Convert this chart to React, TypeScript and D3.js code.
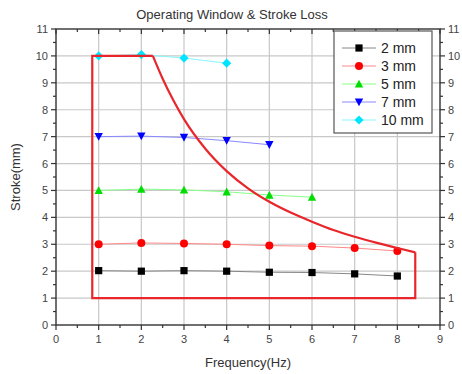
import React from "react";
import * as d3 from "d3";

const W = 462;
const H = 374;
const M = { left: 56, right: 22, top: 29, bottom: 49 };

const xTicks = [0, 1, 2, 3, 4, 5, 6, 7, 8, 9];
const yTicks = [0, 1, 2, 3, 4, 5, 6, 7, 8, 9, 10, 11];

const freq = [1, 2, 3, 4, 5, 6, 7, 8];
const s2mm = [2.02, 2.0, 2.02, 2.0, 1.96, 1.95, 1.9, 1.82];
const s3mm = [3.0, 3.05, 3.03, 3.0, 2.95, 2.93, 2.86, 2.75];
const s5mm = [5.0, 5.05, 5.02, 4.95, 4.83, 4.75];
const s7mm = [7.0, 7.02, 6.97, 6.85, 6.7];
const s10mm = [10.0, 10.05, 9.92, 9.73];

const seriesNames = ["2 mm", "3 mm", "5 mm", "7 mm", "10 mm"];
const seriesValues = [s2mm, s3mm, s5mm, s7mm, s10mm];
const seriesColors = ["#000000", "#ff0000", "#00dd00", "#0000ff", "#00e5ff"];
const lineColors = ["#888888", "#ff8888", "#88ff88", "#8888ff", "#88f5ff"];
const seriesSymbols = ["square", "circle", "triangleUp", "triangleDown", "diamond"];

// operating window: box edges (linear) + limit curve (smooth)
const boxX = [8.42, 8.42, 0.85, 0.85, 2.27];
const boxY = [2.7, 1, 1, 10, 10];
const curveX = [2.27, 2.5, 2.75, 3, 3.5, 4, 4.5, 5, 5.5, 6, 6.5, 7, 7.5, 8, 8.42];
const curveY = [10, 9.15, 8.35, 7.65, 6.55, 5.72, 5.08, 4.58, 4.18, 3.84, 3.53, 3.28, 3.06, 2.86, 2.7];

function Marker({ type, x, y, color }: { type: string; x: number; y: number; color: string }) {
  const r = 3.6;
  if (type === "square") return <rect x={x - r} y={y - r} width={2 * r} height={2 * r} fill={color} />;
  if (type === "circle") return <circle cx={x} cy={y} r={r + 0.4} fill={color} />;
  if (type === "triangleUp")
    return <path d={`M${x},${y - r - 0.6}L${x + r + 0.6},${y + r}L${x - r - 0.6},${y + r}Z`} fill={color} />;
  if (type === "triangleDown")
    return <path d={`M${x},${y + r + 0.6}L${x + r + 0.6},${y - r}L${x - r - 0.6},${y - r}Z`} fill={color} />;
  return <path d={`M${x},${y - r - 1}L${x + r + 1},${y}L${x},${y + r + 1}L${x - r - 1},${y}Z`} fill={color} />;
}

export default function App() {
  const x = d3.scaleLinear().domain([0, 9]).range([M.left, W - M.right]);
  const y = d3.scaleLinear().domain([0, 11]).range([H - M.bottom, M.top]);
  const x0 = x(0), x1 = x(9), y0 = y(0), y1 = y(11);
  const minorX = d3.range(0, 9.01, 0.5);
  const minorY = d3.range(0, 11.01, 0.5);
  const line = d3.line<number>().x((d, i) => x(freq[i])).y((d) => y(d));
  const boxLine = d3.line<number>().x((d) => x(d)).y((d, i) => y(boxY[i]));
  const limLine = d3
    .line<number>()
    .x((d) => x(d))
    .y((d, i) => y(curveY[i]))
    .curve(d3.curveMonotoneX);
  const font = "'Liberation Sans', Arial, sans-serif";
  const axisColor = "#333";
  const textColor = "#444";

  const legX = 334, legY = 31, legW = 98, legH = 102;

  return (
    <svg width={W} height={H} style={{ position: "absolute", left: 0, top: 0, background: "#fff" }} fontFamily={font}>
      <text x={232} y={19} textAnchor="middle" fontSize={13} fill="#333">Operating Window &amp; Stroke Loss</text>
      {/* grid */}
      {xTicks.slice(1, -1).map((t) => (
        <line key={"gx" + t} x1={x(t)} x2={x(t)} y1={y0} y2={y1} stroke="#c8c8c8" strokeWidth={1.2} />
      ))}
      {yTicks.slice(1, -1).map((t) => (
        <line key={"gy" + t} x1={x0} x2={x1} y1={y(t)} y2={y(t)} stroke="#c8c8c8" strokeWidth={1.2} />
      ))}
      {/* series */}
      {seriesValues.map((vals, si) => (
        <g key={"s" + si}>
          <path d={line(vals) || ""} fill="none" stroke={lineColors[si]} strokeWidth={1} />
          {vals.map((v, i) => (
            <Marker key={i} type={seriesSymbols[si]} x={x(freq[i])} y={y(v)} color={seriesColors[si]} />
          ))}
        </g>
      ))}
      {/* operating window */}
      <path d={boxLine(boxX) || ""} fill="none" stroke="#e8262b" strokeWidth={2.2} strokeLinejoin="miter" />
      <path d={limLine(curveX) || ""} fill="none" stroke="#e8262b" strokeWidth={2.2} strokeLinejoin="round" />
      {/* frame */}
      <rect x={x0} y={y1} width={x1 - x0} height={y0 - y1} fill="none" stroke={axisColor} strokeWidth={1.4} />
      {/* ticks */}
      {minorX.map((t, i) => {
        const major = i % 2 === 0;
        const len = major ? 5 : 3;
        return (
          <g key={"tx" + i} stroke={axisColor} strokeWidth={1.2}>
            <line x1={x(t)} x2={x(t)} y1={y0} y2={y0 + len} />
            <line x1={x(t)} x2={x(t)} y1={y1} y2={y1 + len} />
          </g>
        );
      })}
      {minorY.map((t, i) => {
        const major = i % 2 === 0;
        const len = major ? 5 : 3;
        return (
          <g key={"ty" + i} stroke={axisColor} strokeWidth={1.2}>
            <line x1={x0} x2={x0 - len} y1={y(t)} y2={y(t)} />
            <line x1={x1} x2={x1 + len} y1={y(t)} y2={y(t)} />
          </g>
        );
      })}
      {/* tick labels */}
      {xTicks.map((t) => (
        <text key={"lx" + t} x={x(t)} y={y0 + 18} textAnchor="middle" fontSize={11} fill={textColor}>{t}</text>
      ))}
      {yTicks.map((t) => (
        <text key={"ly" + t} x={x0 - 8} y={y(t) + 4} textAnchor="end" fontSize={11} fill={textColor}>{t}</text>
      ))}
      {yTicks.map((t) => (
        <text key={"ry" + t} x={x1 + 8} y={y(t) + 4} textAnchor="start" fontSize={11} fill={textColor}>{t}</text>
      ))}
      {/* axis titles */}
      <text x={248} y={367} textAnchor="middle" fontSize={13} fill="#333">Frequency(Hz)</text>
      <text transform={`translate(20,${(y0 + y1) / 2}) rotate(-90)`} textAnchor="middle" fontSize={13} fill="#333">Stroke(mm)</text>
      {/* legend */}
      <rect x={legX} y={legY} width={legW} height={legH} fill="#fff" stroke="#555" strokeWidth={1.2} />
      {seriesNames.map((n, i) => {
        const ly = legY + 17 + i * 18;
        return (
          <g key={"leg" + i}>
            <line x1={legX + 8} x2={legX + 42} y1={ly} y2={ly} stroke={lineColors[i]} strokeWidth={1} />
            <Marker type={seriesSymbols[i]} x={legX + 25} y={ly} color={seriesColors[i]} />
            <text x={legX + 47} y={ly + 5} fontSize={14} fill="#222">{n}</text>
          </g>
        );
      })}
    </svg>
  );
}
